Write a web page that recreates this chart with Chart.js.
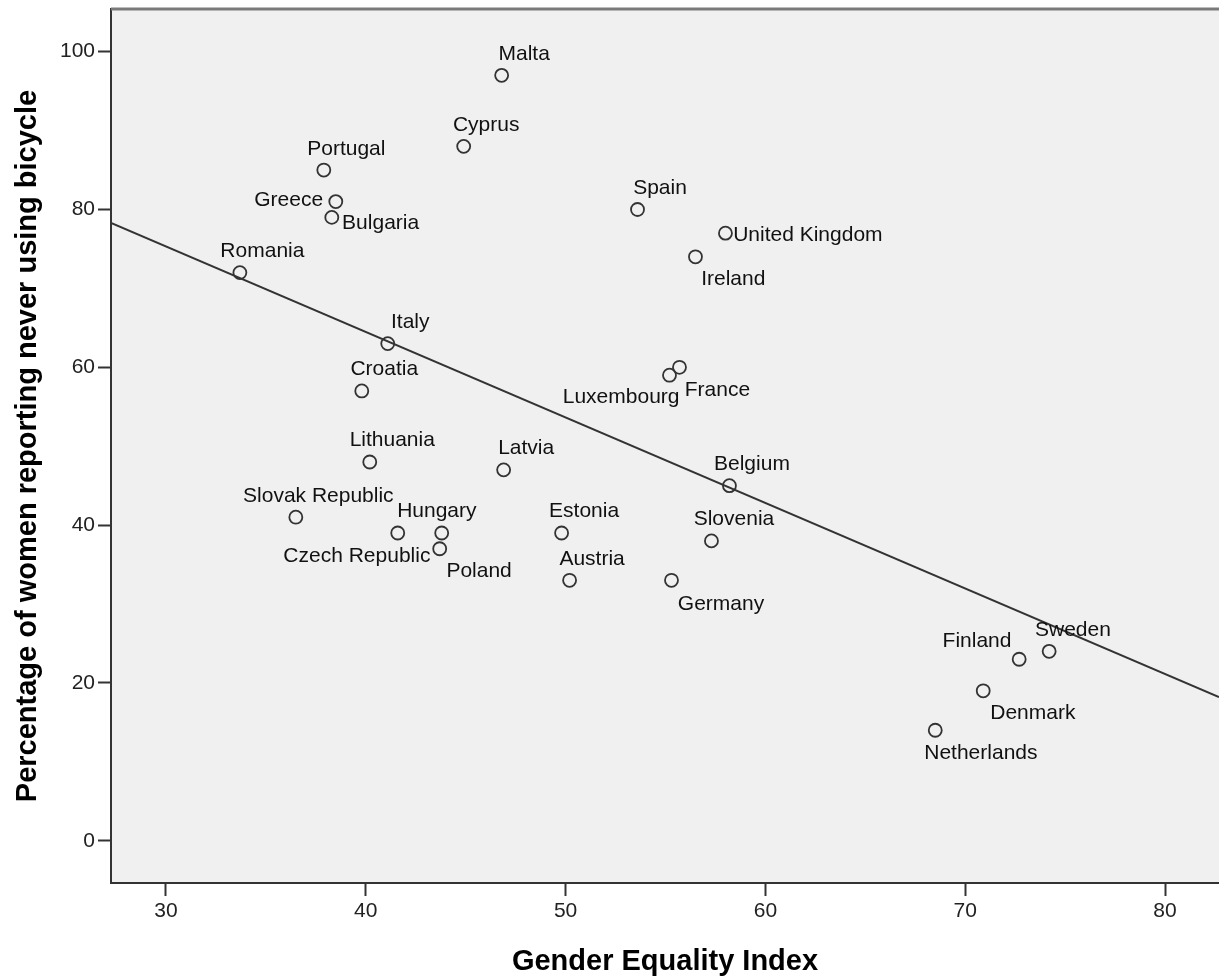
<!DOCTYPE html>
<html>
<head>
<meta charset="utf-8">
<script src="https://cdn.jsdelivr.net/npm/chart.js@4.4.1/dist/chart.umd.min.js"></script>
<style>
  html, body { margin: 0; padding: 0; background: #fff; overflow: hidden; }
  #wrap { width: 1219px; height: 979px; }
  canvas { display: block; }
</style>
</head>
<body>
<div id="wrap"><canvas id="chartCanvas" width="1219" height="979"></canvas></div>
<script>
// data
const countries = ['Malta', 'Cyprus', 'Portugal', 'Greece', 'Bulgaria', 'Romania', 'Spain',
    'United Kingdom', 'Ireland', 'Italy', 'Croatia', 'Luxembourg', 'France', 'Lithuania',
    'Latvia', 'Belgium', 'Slovak Republic', 'Hungary', 'Czech Republic', 'Poland', 'Estonia',
    'Slovenia', 'Austria', 'Germany', 'Finland', 'Sweden', 'Denmark', 'Netherlands'];
const equalityIndex = [46.8, 44.9, 37.9, 38.5, 38.3, 33.7, 53.6,
    58.0, 56.5, 41.1, 39.8, 55.2, 55.7, 40.2,
    46.9, 58.2, 36.5, 41.6, 43.8, 43.7, 49.8,
    57.3, 50.2, 55.3, 72.7, 74.2, 70.9, 68.5];
const neverCycling = [97, 88, 85, 81, 79, 72, 80,
    77, 74, 63, 57, 59, 60, 48,
    47, 45, 41, 39, 39, 37, 39,
    38, 33, 33, 23, 24, 19, 14];
const fitX = [27.25, 82.7];
const fitY = [78.3, 18.2];
const xTicks = [30, 40, 50, 60, 70, 80];
const yTicks = [0, 20, 40, 60, 80, 100];

// label placement: [dx, dy to text middle, align]
const ABOVE = [22.5, -23, 'center'];
const labelSpots = {
    'Greece': [-12.7, -2.7, 'right'],
    'Bulgaria': [10.3, 4.2, 'left'],
    'United Kingdom': [7.7, 0, 'left'],
    'Ireland': [5.7, 20.7, 'left'],
    'Luxembourg': [10, 20.2, 'right'],
    'France': [5.3, 21.3, 'left'],
    'Hungary': [-0.6, -23.5, 'left'],
    'Czech Republic': [-11.3, 21.7, 'right'],
    'Poland': [6.7, 20.5, 'left'],
    'Germany': [6.3, 21.7, 'left'],
    'Finland': [-7.7, -19.8, 'right'],
    'Sweden': [23.8, -22.8, 'center'],
    'Denmark': [7, 21, 'left'],
    'Netherlands': [-11, 21.7, 'left']
};

const FONT = '"Liberation Sans", Arial, Helvetica, sans-serif';

function noScalePadding(s) {
    s.paddingTop = 0;
    s.paddingBottom = 0;
    s.paddingLeft = 0;
    s.paddingRight = 0;
}

const plotBackground = {
    id: 'plotBackground',
    beforeDraw(chart) {
        const { ctx, chartArea: a } = chart;
        ctx.save();
        ctx.fillStyle = '#f0f0f0';
        ctx.fillRect(a.left, a.top, a.right - a.left, a.bottom - a.top);
        ctx.restore();
    },
    afterDraw(chart) {
        const { ctx, chartArea: a } = chart;
        ctx.save();
        ctx.strokeStyle = '#7a7a7a';
        ctx.lineWidth = 3;
        ctx.beginPath();
        ctx.moveTo(a.left, a.top);
        ctx.lineTo(a.right, a.top);
        ctx.stroke();
        ctx.restore();
    }
};

const pointLabels = {
    id: 'pointLabels',
    afterDatasetsDraw(chart) {
        const ctx = chart.ctx;
        const meta = chart.getDatasetMeta(1);
        ctx.save();
        ctx.font = '21px ' + FONT;
        ctx.fillStyle = '#111';
        ctx.textBaseline = 'alphabetic';
        meta.data.forEach((pt, i) => {
            const name = countries[i];
            const [dx, dy, align] = labelSpots[name] || ABOVE;
            ctx.textAlign = align;
            ctx.fillText(name, pt.x + dx, pt.y + dy + 7.5);
        });
        ctx.restore();
    }
};

const ctx = document.getElementById('chartCanvas').getContext('2d');
new Chart(ctx, {
    type: 'scatter',
    data: {
        datasets: [{
            label: 'Fit',
            data: fitX.map((x, i) => ({ x: x, y: fitY[i] })),
            showLine: true,
            borderColor: '#333',
            borderWidth: 2,
            pointRadius: 0
        }, {
            label: 'Countries',
            data: equalityIndex.map((x, i) => ({ x: x, y: neverCycling[i] })),
            pointStyle: 'circle',
            pointRadius: 6.5,
            pointBorderWidth: 1.8,
            borderColor: '#333',
            backgroundColor: 'rgba(0,0,0,0)'
        }]
    },
    options: {
        responsive: false,
        animation: false,
        devicePixelRatio: 1,
        layout: { autoPadding: false, padding: { top: 9, right: 0, left: 0, bottom: 0 } },
        plugins: {
            legend: { display: false },
            tooltip: { enabled: false }
        },
        scales: {
            x: {
                type: 'linear',
                min: 27.25,
                max: 82.7,
                afterBuildTicks: s => { s.ticks = xTicks.map(v => ({ value: v })); },
                afterFit: s => { s.height = 96; noScalePadding(s); },
                grid: { drawOnChartArea: false, tickLength: 13, tickColor: '#333', tickWidth: 2 },
                border: { display: true, color: '#333', width: 2 },
                ticks: { font: { size: 21, family: FONT }, color: '#222', padding: 3, maxRotation: 0, autoSkip: false },
                title: {
                    display: true,
                    text: 'Gender Equality Index',
                    color: '#000',
                    font: { size: 29, weight: 'bold', family: FONT },
                    padding: { top: 0, bottom: 0 }
                }
            },
            y: {
                type: 'linear',
                min: -5.36,
                max: 105.41,
                afterBuildTicks: s => { s.ticks = yTicks.map(v => ({ value: v })); },
                afterFit: s => { s.width = 111; noScalePadding(s); },
                grid: { drawOnChartArea: false, tickLength: 13, tickColor: '#333', tickWidth: 2 },
                border: { display: true, color: '#333', width: 2 },
                ticks: { font: { size: 21, family: FONT }, color: '#222', padding: 3, autoSkip: false },
                title: {
                    display: true,
                    text: 'Percentage of women reporting never using bicycle',
                    color: '#000',
                    font: { size: 29, weight: 'bold', family: FONT },
                    padding: { top: 11, bottom: 0 }
                }
            }
        }
    },
    plugins: [plotBackground, pointLabels]
});
</script>
</body>
</html>
